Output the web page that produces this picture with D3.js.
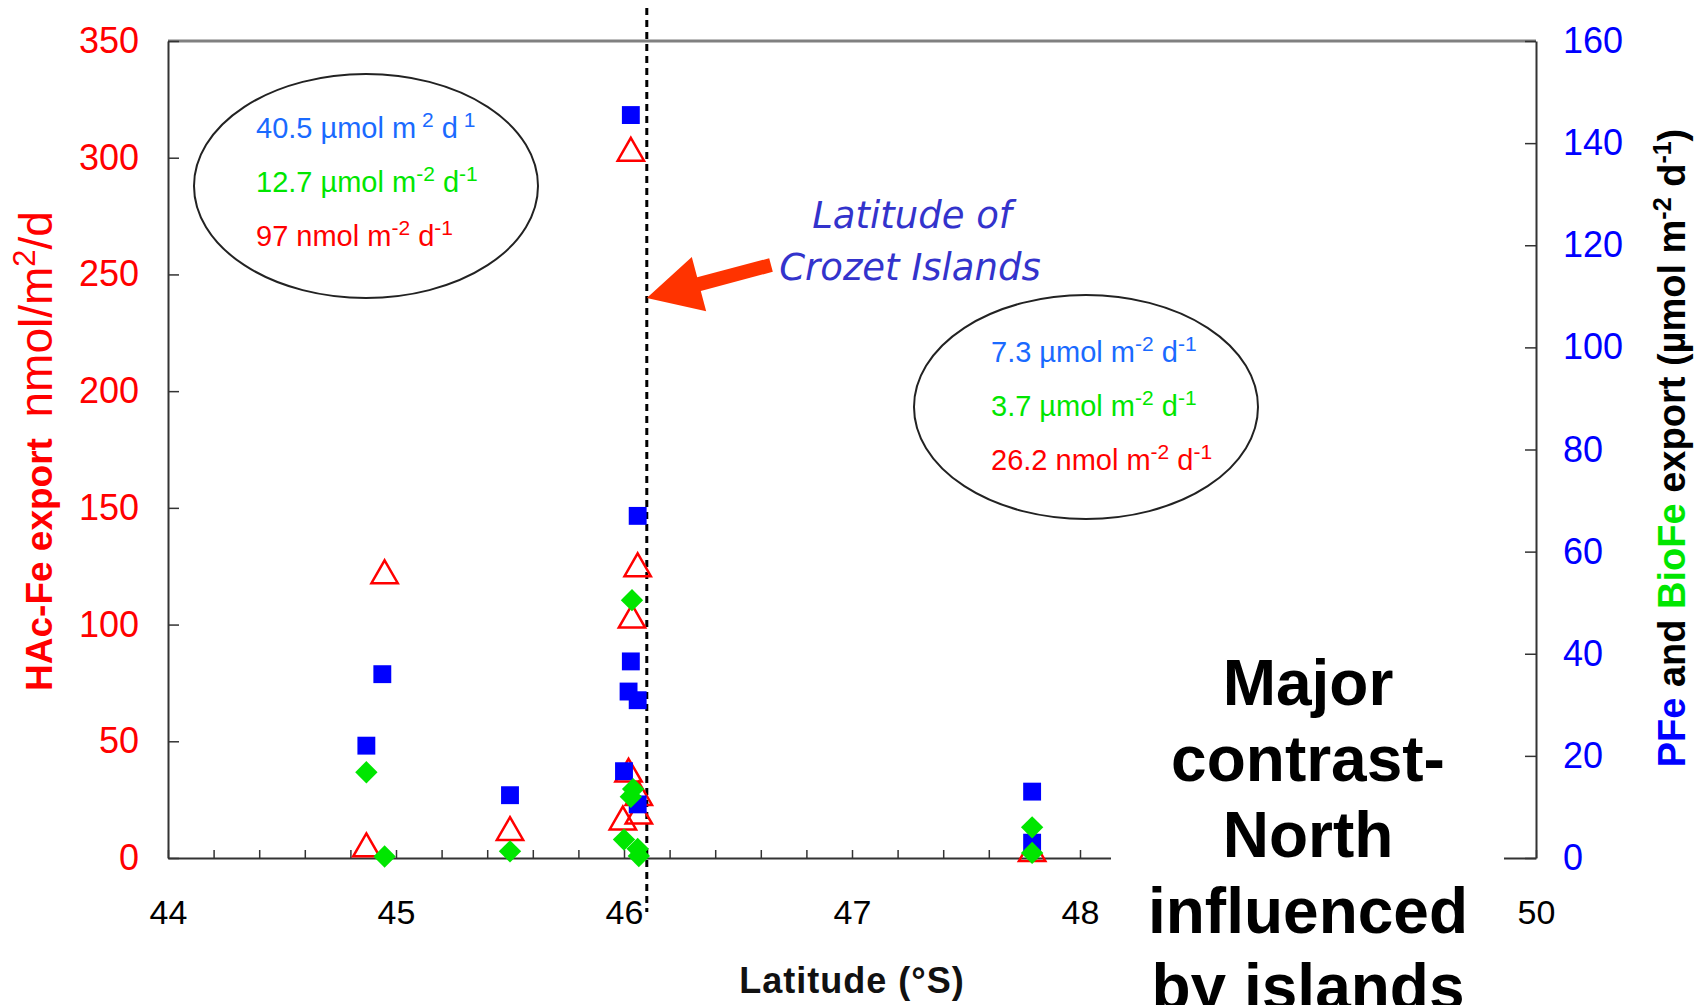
<!DOCTYPE html>
<html>
<head>
<meta charset="utf-8">
<script src="https://cdn.jsdelivr.net/npm/d3@7"></script>
<style>
  body { margin: 0; background: #fff; }
  svg { display: block; font-family: "Liberation Sans", Arial, sans-serif; }
</style>
</head>
<body>
<svg id="chart" width="1702" height="1005"></svg>
<script>
// HAc-Fe export (red open triangles, left axis, nmol/m2/d)
var hacLat = [44.87, 44.95, 45.5, 46.03, 46.06, 46.035, 46.02, 46.065, 46.065, 45.995, 47.79];
var hacVal = [4, 121, 11, 302, 124, 102, 36, 26, 18, 15.5, 2];

// PFe export (blue squares, right axis, umol m-2 d-1)
var pfeLat = [44.87, 44.94, 45.5, 46.03, 46.06, 46.03, 46.02, 46.06, 46.0, 46.06, 47.79, 47.79];
var pfeVal = [22, 36, 12.3, 145.5, 67, 38.5, 32.6, 30.9, 17, 10.5, 13, 3];

// BioFe export (green diamonds, right axis)
var bioLat = [44.87, 44.95, 45.5, 46.035, 46.04, 46.03, 46.0, 46.06, 46.065, 47.79, 47.79];
var bioVal = [16.8, 0.3, 1.3, 50.5, 13.5, 12, 3.6, 1.8, 0.4, 6, 1];

var xTicks = [44, 45, 46, 47, 48, 49, 50];
var leftTicks = [0, 50, 100, 150, 200, 250, 300, 350];
var rightTicks = [0, 20, 40, 60, 80, 100, 120, 140, 160];
var crozetLat = 46.1;

var southText = ["40.5 \u00b5mol m", " 2", " d", " 1"];
var northText = ["7.3 \u00b5mol m", "-2", " d", "-1"];
var southBio = "12.7", northBio = "3.7";
var southHac = "97", northHac = "26.2";

var svg = d3.select("#chart");
var pL = 168, pR = 1536, pT = 41, pB = 858;

var x = d3.scaleLinear().domain([44, 50]).range([pL, pR]);
var yL = d3.scaleLinear().domain([0, 350]).range([pB, pT]);
var yR = d3.scaleLinear().domain([0, 160]).range([pB, pT]);

var red = "#ff0000", blue = "#0000ff", green = "#00e600", axisCol = "#333";

// top border
svg.append("line")
  .attr("x1", pL).attr("x2", pR).attr("y1", pT).attr("y2", pT)
  .attr("stroke", "#808080").attr("stroke-width", 3);

// bottom axis, minor ticks every 0.2
var minor = d3.range(44, 50.001, 0.2).map(function(d) { return Math.round(d * 10) / 10; });
var gx = svg.append("g")
  .attr("transform", "translate(0," + pB + ")")
  .call(d3.axisBottom(x).tickValues(minor).tickSize(-8).tickSizeOuter(0).tickPadding(42)
    .tickFormat(function(d) { return xTicks.indexOf(d) >= 0 ? d : ""; }));
gx.selectAll("text").attr("font-size", 34).attr("fill", "#000").attr("font-family", "Liberation Sans, Arial");
gx.selectAll("line").attr("stroke", axisCol).attr("stroke-width", 1.5);
gx.select(".domain").attr("stroke", axisCol).attr("stroke-width", 2);

// left axis
var gl = svg.append("g")
  .attr("transform", "translate(" + pL + ",0)")
  .call(d3.axisLeft(yL).tickValues(leftTicks).tickSize(-11).tickSizeOuter(0).tickPadding(29));
gl.selectAll("text").attr("font-size", 36).attr("fill", red).attr("font-family", "Liberation Sans, Arial");
gl.selectAll("line").attr("stroke", axisCol).attr("stroke-width", 1.5);
gl.select(".domain").attr("stroke", axisCol).attr("stroke-width", 2);

// right axis
var gr = svg.append("g")
  .attr("transform", "translate(" + pR + ",0)")
  .call(d3.axisRight(yR).tickValues(rightTicks).tickSize(-11).tickSizeOuter(0).tickPadding(27));
gr.selectAll("text").attr("font-size", 36).attr("fill", blue).attr("font-family", "Liberation Sans, Arial");
gr.selectAll("line").attr("stroke", axisCol).attr("stroke-width", 1.5);
gr.select(".domain").attr("stroke", axisCol).attr("stroke-width", 2);

// dashed Crozet latitude line
svg.append("line")
  .attr("x1", x(crozetLat)).attr("x2", x(crozetLat))
  .attr("y1", 8).attr("y2", 912)
  .attr("stroke", "#000").attr("stroke-width", 3).attr("stroke-dasharray", "7,5");

// markers
var tri = d3.symbol().type(d3.symbolTriangle).size(300);
svg.append("g").selectAll("path")
  .data(hacLat.map(function(d, i) { return [d, hacVal[i]]; }))
  .join("path")
  .attr("d", tri)
  .attr("transform", function(d) { return "translate(" + x(d[0]) + "," + yL(d[1]) + ")"; })
  .attr("fill", "none").attr("stroke", red).attr("stroke-width", 2.5);

var sq = d3.symbol().type(d3.symbolSquare).size(320);
svg.append("g").selectAll("path")
  .data(pfeLat.map(function(d, i) { return [d, pfeVal[i]]; }))
  .join("path")
  .attr("d", sq)
  .attr("transform", function(d) { return "translate(" + x(d[0]) + "," + yR(d[1]) + ")"; })
  .attr("fill", blue);

var dia = d3.symbol().type(d3.symbolSquare).size(250);
svg.append("g").selectAll("path")
  .data(bioLat.map(function(d, i) { return [d, bioVal[i]]; }))
  .join("path")
  .attr("d", dia)
  .attr("transform", function(d) { return "translate(" + x(d[0]) + "," + yR(d[1]) + ") rotate(45)"; })
  .attr("fill", green);

// ellipses with the mean fluxes
function fluxBox(cx, cy, tx, ty, pfe, bio, hacNum) {
  svg.append("ellipse").attr("cx", cx).attr("cy", cy).attr("rx", 172).attr("ry", 112)
    .attr("fill", "none").attr("stroke", "#222").attr("stroke-width", 2);
  var rows = [
    { col: "#1a6aff", parts: pfe },
    { col: "#00e600", parts: [bio + " \u00b5mol m", "-2", " d", "-1"] },
    { col: "#ff0000", parts: [hacNum + " nmol m", "-2", " d", "-1"] }
  ];
  rows.forEach(function(r, i) {
    var t = svg.append("text").attr("x", tx).attr("y", ty + i * 54)
      .attr("font-size", 29).attr("fill", r.col);
    t.append("tspan").text(r.parts[0]);
    t.append("tspan").attr("dy", -11).attr("font-size", 21).text(r.parts[1]);
    t.append("tspan").attr("dy", 11).text(r.parts[2]);
    t.append("tspan").attr("dy", -11).attr("font-size", 21).text(r.parts[3]);
  });
}
fluxBox(366, 186, 256, 138, southText, southBio, southHac);
fluxBox(1086, 407, 991, 362, northText, northBio, northHac);

// annotation
var ann = svg.append("text").attr("font-family", "DejaVu Sans, Verdana, sans-serif")
  .attr("font-style", "italic").attr("font-size", 37).attr("fill", "#3333cc").attr("text-anchor", "middle");
ann.append("tspan").attr("x", 912).attr("y", 228).text("Latitude of");
ann.append("tspan").attr("x", 910).attr("y", 280).text("Crozet Islands");

// arrow pointing at the dashed line
(function() {
  var tip = [x(crozetLat), 298], tail = [771, 265];
  var dx = tip[0] - tail[0], dy = tip[1] - tail[1];
  var len = Math.sqrt(dx * dx + dy * dy), ux = dx / len, uy = dy / len, nx = -uy, ny = ux;
  var hw = 7, headL = 54, headW = 28;
  var bx = tip[0] - ux * headL, by = tip[1] - uy * headL;
  var pts = [
    [tail[0] + nx * hw, tail[1] + ny * hw],
    [bx + nx * hw, by + ny * hw],
    [bx + nx * headW, by + ny * headW],
    tip,
    [bx - nx * headW, by - ny * headW],
    [bx - nx * hw, by - ny * hw],
    [tail[0] - nx * hw, tail[1] - ny * hw]
  ];
  svg.append("path").attr("d", d3.line()(pts) + "Z").attr("fill", "#ff3300");
})();

// white box with big note
svg.append("rect").attr("x", 1111).attr("y", 600).attr("width", 393).attr("height", 405).attr("fill", "#fff");
var note = svg.append("text").attr("font-size", 64).attr("font-weight", "bold").attr("fill", "#000")
  .attr("text-anchor", "middle");
["Major", "contrast-", "North", "influenced", "by islands"].forEach(function(s, i) {
  note.append("tspan").attr("x", 1308).attr("y", 705 + i * 76).text(s);
});

// axis titles
svg.append("text").attr("x", x(47)).attr("y", 993).attr("text-anchor", "middle")
  .attr("font-size", 36).attr("font-weight", "bold").attr("letter-spacing", 1).attr("fill", "#111")
  .text("Latitude (\u00b0S)");

var lt = svg.append("text").attr("transform", "translate(52,451) rotate(-90)")
  .attr("text-anchor", "middle").attr("fill", red);
lt.append("tspan").attr("font-weight", "bold").attr("font-size", 37).text("HAc-Fe export\u00a0\u00a0");
lt.append("tspan").attr("font-size", 46).text("nmol/m");
lt.append("tspan").attr("font-size", 31).attr("dy", -17).text("2");
lt.append("tspan").attr("font-size", 46).attr("dy", 17).text("/d");

var rt = svg.append("text").attr("transform", "translate(1685,448) rotate(-90)")
  .attr("text-anchor", "middle").attr("font-weight", "bold").attr("font-size", 38).attr("fill", "#000");
rt.append("tspan").attr("fill", blue).text("PFe");
rt.append("tspan").text(" and ");
rt.append("tspan").attr("fill", green).text("BioFe");
rt.append("tspan").text(" export (\u00b5mol m");
rt.append("tspan").attr("font-size", 25).attr("dy", -14).text("-2");
rt.append("tspan").attr("dy", 14).text(" d");
rt.append("tspan").attr("font-size", 25).attr("dy", -14).text("-1");
rt.append("tspan").attr("dy", 14).text(")");
</script>
</body>
</html>
